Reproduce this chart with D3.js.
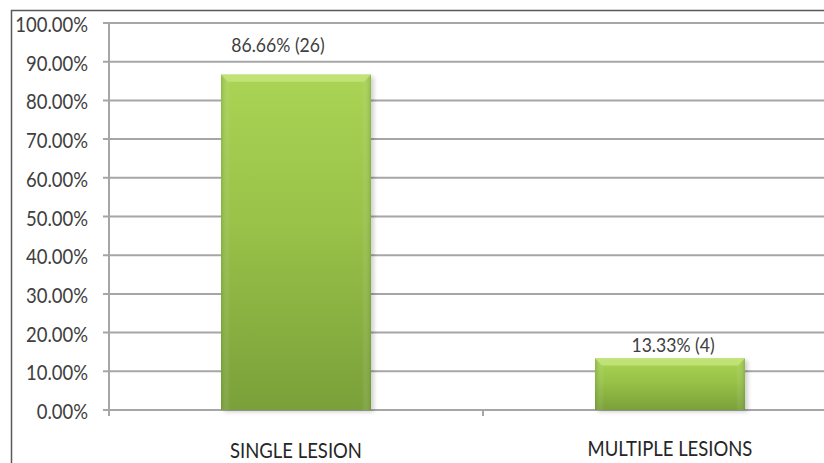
<!DOCTYPE html>
<html>
<head>
<meta charset="utf-8">
<script src="https://cdn.jsdelivr.net/npm/d3@7"></script>
<style>
  html, body { margin: 0; padding: 0; background: #fff; }
  svg { display: block; }
</style>
</head>
<body>
<svg id="chart" width="824" height="463"></svg>
<script>
// Lesion distribution data
const categories = ["SINGLE LESION", "MULTIPLE LESIONS"];
const percentages = [86.66, 13.33];
const counts = [26, 4];
const yTicks = [0, 10, 20, 30, 40, 50, 60, 70, 80, 90, 100];

const svg = d3.select("#chart");
const W = 824, H = 463;
const fontFamily = "Lato, 'Open Sans', sans-serif";
const squeeze = 0.88; // narrow the glyphs horizontally

// Outer frame (top and left edges visible)
svg.append("path")
  .attr("d", `M11.5,${H} L11.5,10.5 L${W},10.5`)
  .attr("fill", "none")
  .attr("stroke", "#5a5a5a")
  .attr("stroke-width", 1.5);

const axisX = 109;
const y = d3.scaleLinear().domain([0, 100]).range([410, 23]);
const x = d3.scaleBand().domain(categories).range([axisX, 857]).paddingInner(0).paddingOuter(0);
const barW = 150;

const defs = svg.append("defs");
const grad = defs.append("linearGradient").attr("id", "barGrad")
  .attr("x1", 0).attr("y1", 0).attr("x2", 0).attr("y2", 1);
grad.append("stop").attr("offset", "0%").attr("stop-color", "#a9d454");
grad.append("stop").attr("offset", "45%").attr("stop-color", "#98c248");
grad.append("stop").attr("offset", "100%").attr("stop-color", "#7aa03a");

const hgrad = defs.append("linearGradient").attr("id", "sideGrad")
  .attr("x1", 0).attr("y1", 0).attr("x2", 1).attr("y2", 0);
hgrad.append("stop").attr("offset", "0%").attr("stop-color", "#5f8a2a").attr("stop-opacity", 0.35);
hgrad.append("stop").attr("offset", "6%").attr("stop-color", "#ffffff").attr("stop-opacity", 0);
hgrad.append("stop").attr("offset", "94%").attr("stop-color", "#ffffff").attr("stop-opacity", 0);
hgrad.append("stop").attr("offset", "100%").attr("stop-color", "#5f8a2a").attr("stop-opacity", 0.35);

const blur = defs.append("filter").attr("id", "shadow").attr("x", "-10%").attr("y", "-10%").attr("width", "130%").attr("height", "130%");
blur.append("feGaussianBlur").attr("stdDeviation", 2);

// Gridlines with left tick marks
const grid = svg.append("g");
grid.selectAll("line").data(yTicks).join("line")
  .attr("x1", 103).attr("x2", W)
  .attr("y1", d => y(d)).attr("y2", d => y(d))
  .attr("stroke", "#a6a6a6").attr("stroke-width", 2);

// Vertical axis line
svg.append("line")
  .attr("x1", axisX).attr("x2", axisX)
  .attr("y1", y(100)).attr("y2", y(0) + 6)
  .attr("stroke", "#a6a6a6").attr("stroke-width", 2);

// Category separator tick
svg.append("line")
  .attr("x1", x(categories[1])).attr("x2", x(categories[1]))
  .attr("y1", y(0)).attr("y2", y(0) + 6)
  .attr("stroke", "#a6a6a6").attr("stroke-width", 2);

// Y tick labels
svg.append("g").selectAll("text").data(yTicks).join("text")
  .attr("transform", d => `translate(88,${y(d) + 9}) scale(${squeeze},1)`)
  .attr("text-anchor", "end")
  .attr("font-family", fontFamily).attr("font-size", 21)
  .attr("fill", "#404040")
  .text(d => d.toFixed(2) + "%");

// Bars
const bars = svg.append("g").selectAll("g").data(categories).join("g");
const bx = (c) => x(c) + (x.bandwidth() - barW) / 2;

bars.append("rect")
  .attr("x", c => bx(c) + 3).attr("y", (c, i) => y(percentages[i]) + 2)
  .attr("width", barW).attr("height", (c, i) => y(0) - y(percentages[i]))
  .attr("fill", "#000").attr("opacity", 0.18).attr("filter", "url(#shadow)");

bars.append("rect")
  .attr("x", c => bx(c)).attr("y", (c, i) => y(percentages[i]))
  .attr("width", barW).attr("height", (c, i) => y(0) - y(percentages[i]))
  .attr("fill", "url(#barGrad)");

bars.append("rect")
  .attr("x", c => bx(c)).attr("y", (c, i) => y(percentages[i]))
  .attr("width", barW).attr("height", (c, i) => y(0) - y(percentages[i]))
  .attr("fill", "url(#sideGrad)");

// Bevel highlight along the top edge
bars.append("path")
  .attr("d", (c, i) => {
    const x0 = bx(c), y0 = y(percentages[i]), b = 7;
    return `M${x0},${y0} L${x0 + barW},${y0} L${x0 + barW - b},${y0 + b} L${x0 + b},${y0 + b} Z`;
  })
  .attr("fill", "#c4e57a").attr("opacity", 0.85);

// Value labels
const labelDx = [-18, 3];
const labelDy = [-23, -6];
svg.append("g").selectAll("text").data(categories).join("text")
  .attr("transform", (c, i) =>
    `translate(${x(c) + x.bandwidth() / 2 + labelDx[i]},${y(percentages[i]) + labelDy[i]}) scale(${squeeze},1)`)
  .attr("text-anchor", "middle")
  .attr("font-family", fontFamily).attr("font-size", 20)
  .attr("fill", "#404040")
  .text((c, i) => percentages[i].toFixed(2) + "% (" + counts[i] + ")");

// Category labels
svg.append("g").selectAll("text").data(categories).join("text")
  .attr("transform", (c, i) => `translate(${x(c) + x.bandwidth() / 2},${i === 0 ? 458 : 456}) scale(${squeeze},1)`)
  .attr("text-anchor", "middle")
  .attr("font-family", fontFamily).attr("font-size", 21)
  .attr("fill", "#262626")
  .text(c => c);
</script>
</body>
</html>
